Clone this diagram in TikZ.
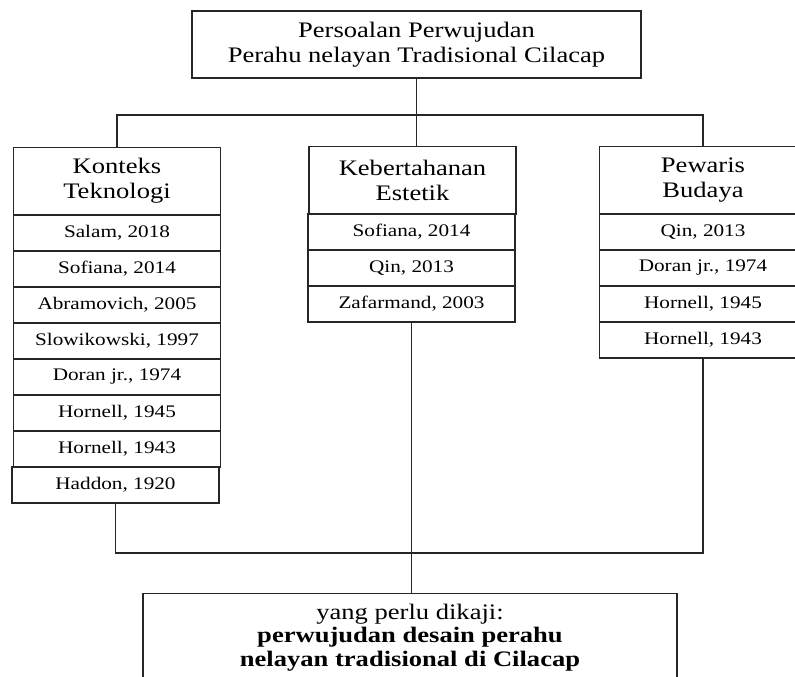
\documentclass[tikz,border=0pt]{standalone}
\usepackage{fontspec}
\setmainfont{Liberation Serif}[FakeStretch=1.2]
\usepackage{tikz}

\tikzset{
    kotak/.style={draw, text=black, inner sep=0pt, align=center},
    judul/.style={kotak, font=\fontsize{16.6}{18.5}\selectfont, minimum width=336.75pt, minimum height=50.25pt},
    kolom/.style={kotak, font=\fontsize{16.6}{18.75}\selectfont, minimum width=155.25pt, minimum height=50.6pt},
    pustaka/.style={kotak, font=\fontsize{13.25}{15}\selectfont, minimum width=155.25pt, minimum height=27pt},
    hasil/.style={kotak, font=\fontsize{16.6}{17.5}\selectfont, minimum width=400.5pt, minimum height=66pt}
}

\begin{document}
\begin{tikzpicture}[x=0.75pt, y=-0.75pt, line width=0.9pt, color=black!85]
    \useasboundingbox (0,0) rectangle (795,676);

    % --- Top: persoalan ---
    \node[judul] (masalah) at (416.5, 44.5) {Persoalan Perwujudan\\Perahu nelayan Tradisional Cilacap};

    % --- Three column headers ---
    \node[kolom] (tek) at (117, 181) {Konteks\\Teknologi};
    \node[kolom] (est) at (412.5, 180.5) {Kebertahanan\\Estetik};
    \node[kolom] (bud) at (703, 180.5) {Pewaris\\Budaya};

    % --- Left column: references ---
    \foreach \nama [count=\i] in {{Salam, 2018}, {Sofiana, 2014}, {Abramovich, 2005},
        {Slowikowski, 1997}, {Doran jr., 1974}, {Hornell, 1945}, {Hornell, 1943}}
        \node[pustaka] (tek\i) at (117, 197+36*\i) {\nama};
    % Haddon sits a little to the left
    \node[pustaka] (tek8) at (115.5, 485) {Haddon, 1920};

    % --- Middle column: references ---
    \foreach \nama [count=\i] in {{Sofiana, 2014}, {Qin, 2013}, {Zafarmand, 2003}}
        \node[pustaka] (est\i) at (411.5, 196+36*\i) {\nama};

    % --- Right column: references ---
    \foreach \nama [count=\i] in {{Qin, 2013}, {Doran jr., 1974}, {Hornell, 1945}, {Hornell, 1943}}
        \node[pustaka] (bud\i) at (703, 196+36*\i) {\nama};

    % --- Bottom: yang perlu dikaji ---
    \node[hasil, anchor=north] (kaji) at (410, 593)
        {yang perlu dikaji:\\\textbf{perwujudan desain perahu}\\\textbf{nelayan tradisional di Cilacap}};

    % --- Connectors ---
    \coordinate (cabang) at (414, 115);
    \coordinate (gabung) at (411, 553);
    \draw (masalah.south) -- (masalah.south |- est.north);
    \draw (tek.north) |- (cabang) -| (bud.north);
    \draw (tek8.south) |- (gabung) -| (bud4.south);
    \draw (est3.south) -- (est3.south |- kaji.north);

\end{tikzpicture}
\end{document}
